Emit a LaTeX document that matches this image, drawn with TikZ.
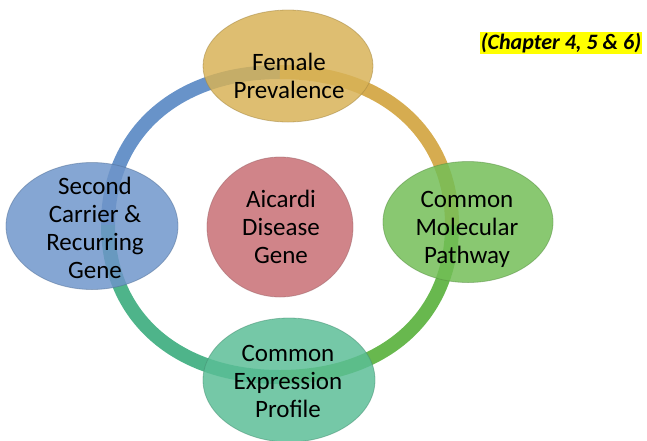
\documentclass[tikz,border=0pt]{standalone}
\usepackage{fontspec}
\setmainfont{Carlito}
\usetikzlibrary{shapes.geometric,calc}

\definecolor{ringblue}{RGB}{104,147,201}
\definecolor{ringgold}{RGB}{214,172,80}
\definecolor{ringgreen}{RGB}{104,184,78}
\definecolor{ringteal}{RGB}{78,180,138}
\definecolor{fillgold}{RGB}{216,178,86}
\definecolor{fillblue}{RGB}{110,149,202}
\definecolor{fillgreen}{RGB}{114,190,86}
\definecolor{fillteal}{RGB}{90,190,150}
\definecolor{fillrose}{RGB}{208,132,137}
\definecolor{tagyellow}{RGB}{255,255,0}

\begin{document}
\begin{tikzpicture}[x=1pt,y=-1pt,
  ringseg/.style={draw=#1, line width=14pt, line cap=butt},
  bubble/.style={ellipse, inner sep=0pt, fill=#1, fill opacity=0.84,
    draw=#1!75!black, draw opacity=0.5, line width=0.8pt},
  caption/.style={align=center, text=black, font=\fontsize{25}{28}\selectfont},
  tag/.style={fill=tagyellow, inner xsep=1pt, inner ysep=1.5pt,
    font=\fontsize{22}{24}\selectfont\bfseries\itshape}]

\useasboundingbox (0,0) rectangle (647,440);

% anchor points of the cycle ring
\coordinate (L) at (108,225);
\coordinate (T) at (280,72);
\coordinate (R) at (452,225);
\coordinate (B) at (280,377);

% ring segments, one per step of the cycle
\draw[ringseg=ringblue]  (L) .. controls ($(L)+(0,-92)$)  and ($(T)+(-103,0)$) .. (T);
\draw[ringseg=ringgold]  (T) .. controls ($(T)+(103,0)$)  and ($(R)+(0,-92)$)   .. (R);
\draw[ringseg=ringgreen] (R) .. controls ($(R)+(0,92)$)   and ($(B)+(103,0)$)   .. (B);
\draw[ringseg=ringteal]  (B) .. controls ($(B)+(-103,0)$) and ($(L)+(0,92)$)    .. (L);

% the four outer topics
\node[bubble=fillgold,  minimum width=170pt, minimum height=112pt] (top)    at (288,66)  {};
\node[bubble=fillblue,  minimum width=172pt, minimum height=127pt] (left)   at (92,226)  {};
\node[bubble=fillgreen, minimum width=170pt, minimum height=121pt] (right)  at (468,222) {};
\node[bubble=fillteal,  minimum width=172pt, minimum height=124pt] (bottom) at (289,380) {};

% central topic
\node[bubble=fillrose, fill opacity=1, minimum width=146pt, minimum height=140pt] (core) at (280,227) {};

% labels
\node[caption] (toplbl)    at (289,76)  {Female\\Prevalence};
\node[caption] (leftlbl)   at (95,228)  {Second\\Carrier \&\\Recurring\\Gene};
\node[caption] (rightlbl)  at (467,229) {Common\\Molecular\\Pathway};
\node[caption] (bottomlbl) at (288,381) {Common\\Expression\\Profile};
\node[caption] (corelbl)   at (281,227) {Aicardi\\Disease\\Gene};

\node[tag] (chapters) at (561,43) {(Chapter 4, 5 \& 6)};
\end{tikzpicture}
\end{document}
